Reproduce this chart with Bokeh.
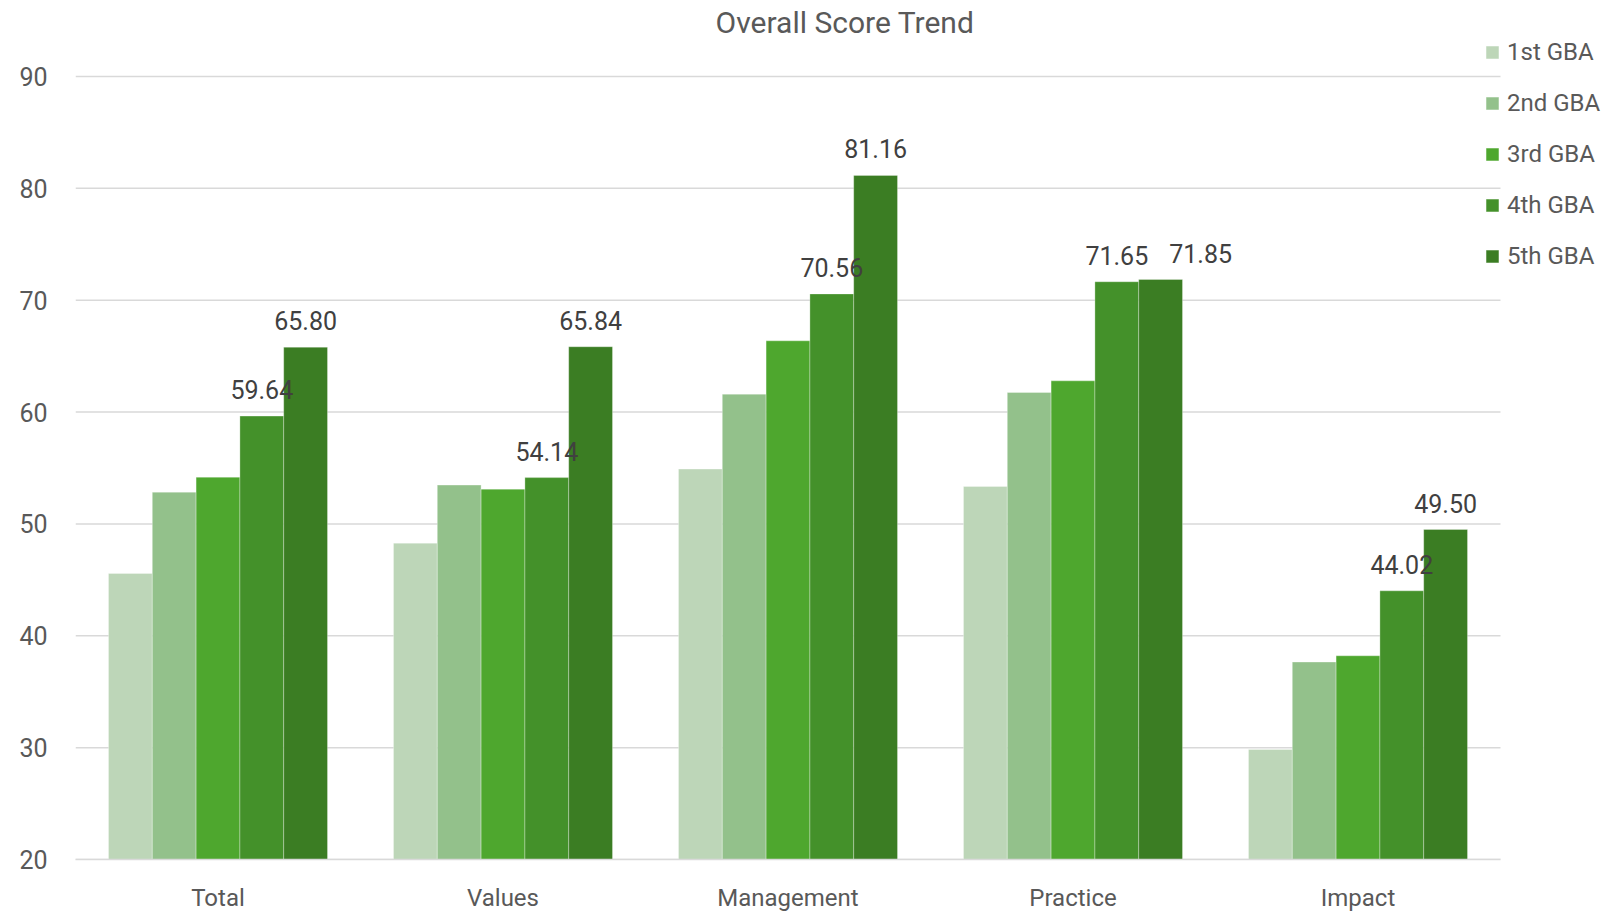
from bokeh.plotting import figure
from bokeh.models import (Range1d, ColumnDataSource, LabelSet, Label,
                          Legend, LegendItem, FixedTicker)
from bokeh.transform import dodge
from bokeh.core.properties import value
from bokeh.embed import file_html
from bokeh.resources import INLINE

# ---- data ----
categories = ["Total", "Values", "Management", "Practice", "Impact"]
series_names = ["1st GBA", "2nd GBA", "3rd GBA", "4th GBA", "5th GBA"]
gba1 = [45.57, 48.28, 54.90, 53.35, 29.83]
gba2 = [52.84, 53.47, 61.60, 61.75, 37.65]
gba3 = [54.18, 53.11, 66.37, 62.79, 38.21]
gba4 = [59.64, 54.14, 70.56, 71.65, 44.02]
gba5 = [65.80, 65.84, 81.16, 71.85, 49.50]
y_ticks = [20, 30, 40, 50, 60, 70, 80, 90]
title_text = "Overall Score Trend"

colors = ["#BDD6B8", "#93C18B", "#4EA72E", "#44912A", "#3B7D23"]
FONT = "Roboto"

n_cat = len(categories)
x_idx = [i + 0.5 for i in range(n_cat)]          # category centres on the x scale
series = [gba1, gba2, gba3, gba4, gba5]
data = {"x": x_idx, "cats": categories}
for i, s in enumerate(series):
    data[f"s{i}"] = s
    data[f"l{i}"] = [f"{v:.2f}" for v in s]
# label nudges (px): the 5th label in "Practice" is pushed right to clear its neighbour
data["xo3"] = [0, 0, 0, 0, 0]
data["xo4"] = [0, 0, 0, 40, 0]
source = ColumnDataSource(data)

# frame: x from 75px to the right edge, y from the top edge to 859px
W, H = 1613, 914
left_b, bottom_b = 75, 55
px_per_cat = 285.0
px_per_unit = 783.0 / 70.0
x_end = (W - left_b) / px_per_cat
y_end = y_ticks[0] + (H - bottom_b) / px_per_unit

p = figure(x_range=Range1d(0, x_end), y_range=Range1d(y_ticks[0], y_end),
           width=W, height=H, output_backend="svg", toolbar_location=None,
           min_border_left=left_b, min_border_right=0, min_border_top=0,
           min_border_bottom=bottom_b)
p.outline_line_color = None
p.background_fill_color = "white"
p.xgrid.visible = False
p.ygrid.visible = False

# horizontal gridlines limited to the category span
p.segment(x0=[0] * len(y_ticks), x1=[n_cat] * len(y_ticks), y0=y_ticks, y1=y_ticks,
          line_color="#D9D9D9", line_width=1.5)

bw = 0.1537
renderers = []
for i in range(5):
    off = (i - 2) * bw
    r = p.vbar(x=dodge("x", off), top=f"s{i}", bottom=y_ticks[0],
               width=bw, source=source, fill_color=colors[i],
               line_color="white", line_alpha=0.3, line_width=1)
    renderers.append(r)

for i in (3, 4):
    off = (i - 2) * bw
    ls = LabelSet(x=dodge("x", off), y=f"s{i}", text=f"l{i}",
                  source=source, x_offset=f"xo{i}", y_offset=17, text_align="center",
                  text_baseline="alphabetic", text_font=value(FONT),
                  text_font_size="25px", text_color="#404040")
    p.add_layout(ls)

# axes
p.yaxis.ticker = FixedTicker(ticks=y_ticks)
p.yaxis.axis_line_color = None
p.yaxis.major_tick_line_color = None
p.yaxis.minor_tick_line_color = None
p.yaxis.major_tick_out = 0
p.yaxis.major_label_standoff = 28
p.yaxis.major_label_text_font = FONT
p.yaxis.major_label_text_font_size = "25px"
p.yaxis.major_label_text_color = "#595959"

p.xaxis.ticker = FixedTicker(ticks=x_idx)
p.xaxis.major_label_overrides = {x: c for x, c in zip(x_idx, categories)}
p.xaxis.bounds = (0, n_cat)
p.xaxis.axis_line_color = "#D9D9D9"
p.xaxis.axis_line_width = 1.5
p.xaxis.major_tick_line_color = None
p.xaxis.minor_tick_line_color = None
p.xaxis.major_tick_out = 0
p.xaxis.major_label_standoff = 24
p.xaxis.major_label_text_font = FONT
p.xaxis.major_label_text_font_size = "24px"
p.xaxis.major_label_text_color = "#595959"

# title
p.add_layout(Label(x=2.70, y=94.83, text=title_text, text_align="center",
                   text_baseline="alphabetic", text_font=FONT,
                   text_font_size="30px", text_color="#595959"))

legend = Legend(items=[LegendItem(label=n, renderers=[r]) for n, r in zip(series_names, renderers)],
                location=(1409, 588), orientation="vertical",
                glyph_width=16, glyph_height=16, label_standoff=7, spacing=21,
                label_height=30, padding=0, margin=0, border_line_color=None,
                background_fill_alpha=0,
                label_text_font=FONT, label_text_font_size="24px", label_text_color="#595959")
p.add_layout(legend, "center")

open("out.html", "w").write(file_html(p, INLINE))
